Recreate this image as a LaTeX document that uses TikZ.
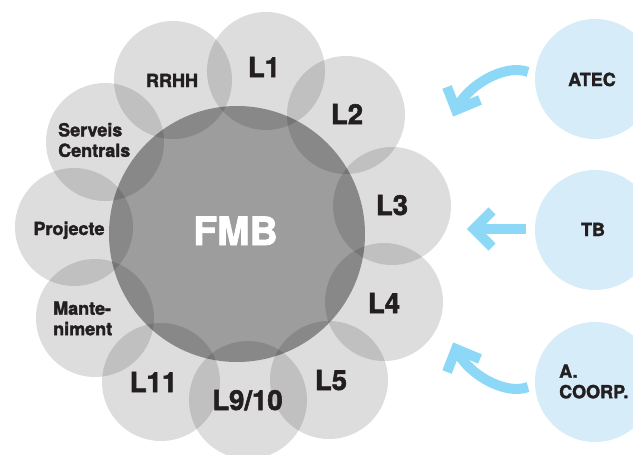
\documentclass[tikz,border=0pt]{standalone}
\usepackage{fontspec}
\setmainfont{TeX Gyre Heros}[BoldFeatures={FakeBold=2}]
\definecolor{lbl}{RGB}{35,31,32}
\definecolor{bluefill}{RGB}{214,236,249}
\definecolor{arrowblue}{RGB}{141,216,246}
\begin{document}
\begin{tikzpicture}[x=1pt,y=-1pt,
  small/.style={circle,minimum size=118pt,inner sep=0pt,fill=black,fill opacity=0.135},
  big/.style={circle,minimum size=256pt,inner sep=0pt,fill=black,fill opacity=0.385},
  ext/.style={circle,minimum size=120pt,inner sep=0pt,fill=bluefill},
  lab/.style={text=lbl,font=\bfseries\fontsize{18}{20.5}\selectfont,align=left,inner sep=0pt},
  lnum/.style={text=lbl,font=\bfseries\fontsize{27.5}{30}\selectfont,inner sep=0pt,anchor=base},
  flow/.style={draw=arrowblue,line width=10pt,line cap=butt},
  chevron/.style={draw=arrowblue,line width=10pt,line cap=butt,line join=miter}]
\useasboundingbox (0,0) rectangle (633,455);
\clip (0,0) rectangle (633,455);
% circles
\node[big] (fmb) at (237,234) {};
\node[small] (l1) at (266,71) {};
\node[small] (rrhh) at (173,80) {};
\node[small] (l2) at (346,115) {};
\node[small] (serv) at (105,142) {};
\node[small] (l3) at (392,206) {};
\node[small] (proj) at (74,227) {};
\node[small] (l4) at (384,302) {};
\node[small] (mant) at (95,318) {};
\node[small] (l5) at (329,380) {};
\node[small] (l11) at (161,382) {};
\node[small] (l910) at (248,400) {};
\node[ext] (atec) at (595,79) {};
\node[ext] (tb) at (595,230) {};
\node[ext] (coorp) at (595,382) {};
% labels
\node[text=white,font=\bfseries\fontsize{39}{40}\selectfont,inner sep=0pt,anchor=base] (tfmb) at (235.5,245) {FMB};
\node[lnum] (tl1) at (264,77) {L1};
\node[lnum] (tl2) at (347,124) {L2};
\node[lnum] (tl3) at (392,215) {L3};
\node[lnum] (tl4) at (384,313) {L4};
\node[lnum] (tl5) at (331,390) {L5};
\node[lnum] (tl11) at (153.5,392) {L11};
\node[lnum] (tl910) at (247.5,410) {L9/10};
\node[lab,anchor=base] (trrhh) at (172,87) {RRHH};
\node[lab,anchor=west] (tserv) at (58,140) {Serveis\\Centrals};
\node[lab,anchor=base] (tproj) at (69,235) {Projecte};
\node[lab,anchor=west] (tmant) at (53,318.5) {Mante-\\niment};
\node[lab,anchor=base] (tatec) at (592,86) {ATEC};
\node[lab,anchor=base] (ttb) at (593,236) {TB};
\node[lab,anchor=west] (tcoorp) at (559,381.5) {A.\\COORP.};
% arrows
\coordinate (atec-s) at (528,72);
\coordinate (atec-e) at (456,110);
\coordinate (atec-a1) at (447,87);
\coordinate (atec-a2) at (480,100);
\coordinate (tb-s) at (526,229);
\coordinate (tb-e) at (474,229);
\coordinate (tb-a1) at (492,211);
\coordinate (tb-a2) at (492,247);
\coordinate (coorp-s) at (528,387);
\coordinate (coorp-e) at (456,349);
\coordinate (coorp-a1) at (447,372);
\coordinate (coorp-a2) at (480,359);
\draw[flow] (atec-s) .. controls (505,63) and (466,86) .. (atec-e);
\draw[chevron] (atec-a1) -- (atec-e) -- (atec-a2);
\draw[flow] (tb-s) -- (tb-e);
\draw[chevron] (tb-a1) -- (tb-e) -- (tb-a2);
\draw[flow] (coorp-s) .. controls (505,396) and (466,373) .. (coorp-e);
\draw[chevron] (coorp-a1) -- (coorp-e) -- (coorp-a2);
\end{tikzpicture}
\end{document}
